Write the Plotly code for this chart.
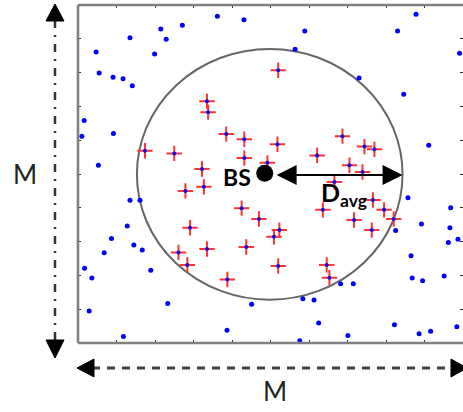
import plotly.graph_objects as go

# ---------------- data (axis units 0..10) ----------------
# users outside the coverage circle (blue dots)
blue_x = [3.62, 2.71, 2.15, 1.35, 2.29, 0.47, 1.99, 0.55, 0.91, 1.17, 1.41, 0.16, 0.10, 0.92,
          0.53, 1.35, 1.61, 4.31, 5.89, 8.78, 8.30, 5.64, 9.91, 7.30, 8.46, 9.11, 8.57, 1.28,
          0.87, 0.68, 1.45, 1.67, 0.17, 0.36, 1.89, 2.33, 0.29, 1.18, 3.87, 9.68, 8.92, 9.66,
          8.25, 9.62, 9.87, 8.65, 8.68, 8.95, 9.51, 6.82, 7.15, 5.84, 6.13, 4.51, 6.25, 8.22,
          9.84, 9.16, 8.86, 7.01, 5.76]
blue_y = [9.67, 9.40, 9.29, 9.03, 8.99, 8.61, 8.55, 7.99, 7.86, 7.82, 7.61, 6.58, 6.12, 6.20,
          5.26, 4.22, 4.22, 9.56, 9.23, 9.73, 9.23, 8.69, 8.57, 7.84, 7.36, 5.85, 4.30, 3.46,
          3.09, 2.67, 2.90, 2.75, 2.21, 1.92, 2.15, 1.17, 0.95, 0.19, 0.38, 4.00, 3.52, 3.41,
          3.33, 2.97, 3.07, 2.58, 1.92, 1.84, 1.98, 1.75, 1.75, 1.31, 1.27, 1.15, 0.59, 0.54,
          0.48, 0.35, 0.27, 0.22, 0.07]

# users inside the coverage circle (red crosses)
red_x = [3.35, 3.38, 3.85, 1.74, 2.50, 3.22, 3.27, 2.79, 5.20, 4.32, 5.18, 6.87, 7.44, 7.70,
         4.32, 6.21, 7.05, 7.39, 4.92, 6.66, 7.66, 4.25, 2.91, 2.61, 3.35, 2.84, 3.88, 4.70,
         5.23, 5.09, 4.37, 5.20, 6.46, 6.53, 6.36, 7.17, 7.95, 8.20, 7.63]
red_y = [7.15, 6.83, 6.18, 5.69, 5.61, 5.15, 4.62, 4.50, 8.07, 6.03, 5.88, 6.12, 5.81, 5.73,
         5.47, 5.55, 5.26, 5.06, 5.33, 4.76, 4.23, 3.99, 3.41, 2.68, 2.78, 2.31, 1.88, 3.67,
         3.34, 3.14, 2.84, 2.28, 2.31, 1.93, 3.94, 3.64, 3.94, 3.67, 3.34]

# base station and coverage circle
bs_x = [4.85]
bs_y = [5.02]
circle_cx, circle_cy = 4.98, 4.99
circle_rx, circle_ry = 3.45, 3.71
davg_y = 4.97
davg_from, davg_to = 5.12, 8.43

labels = {"bs": "BS", "davg": "<b>D</b><sub><b>avg</b></sub>", "side": "M"}

# ---------------- figure ----------------
W, H = 463, 412
L, R, T, B = 78, 0, 5, 69
PW, PH = W - L - R, H - T - B


def px(x):
    return (x - L) / PW


def py(y):
    return (H - B - y) / PH


fig = go.Figure()

fig.add_trace(go.Scatter(x=blue_x, y=blue_y, mode="markers",
                         marker=dict(color="#0000ff", size=5, symbol="circle"),
                         hoverinfo="skip", showlegend=False))
fig.add_trace(go.Scatter(x=red_x, y=red_y, mode="markers",
                         marker=dict(symbol="cross-thin", size=11,
                                     line=dict(color="#ff3333", width=2)),
                         hoverinfo="skip", showlegend=False))
fig.add_trace(go.Scatter(x=red_x, y=red_y, mode="markers",
                         marker=dict(color="#1010e0", size=4),
                         hoverinfo="skip", showlegend=False))
fig.add_trace(go.Scatter(x=bs_x, y=bs_y, mode="markers",
                         marker=dict(color="black", size=17),
                         hoverinfo="skip", showlegend=False))

shapes = []
# coverage circle
shapes.append(dict(type="circle", xref="x", yref="y",
                   x0=circle_cx - circle_rx, x1=circle_cx + circle_rx,
                   y0=circle_cy - circle_ry, y1=circle_cy + circle_ry,
                   line=dict(color="#666666", width=2), layer="below"))
# box border (left, top, bottom; right edge is cut off)
border = dict(color="#808080", width=2.6)
shapes.append(dict(type="line", xref="paper", yref="paper", x0=0, x1=0, y0=0, y1=1, line=border))
shapes.append(dict(type="line", xref="paper", yref="paper", x0=0, x1=1.01, y0=1, y1=1, line=border))
shapes.append(dict(type="line", xref="paper", yref="paper", x0=0, x1=1.01, y0=0, y1=0, line=border))

# vertical dash-dot double arrow (left)
vx = 55
shapes.append(dict(type="line", xref="paper", yref="paper", x0=px(vx), x1=px(vx),
                   y0=py(20), y1=py(340),
                   line=dict(color="#333333", width=2.5, dash="8px,7px,2px,7px")))


def tri(p):
    s = "M " + " L ".join(f"{px(a):.5f},{py(b):.5f}" for a, b in p) + " Z"
    return dict(type="path", xref="paper", yref="paper", path=s,
                fillcolor="black", line=dict(color="black", width=1))


shapes.append(tri([(vx, 4), (vx - 9, 21), (vx + 9, 21)]))
shapes.append(tri([(vx, 358), (vx - 9, 340), (vx + 9, 340)]))

# horizontal dashed double arrow (bottom)
hy = 368
shapes.append(dict(type="line", xref="paper", yref="paper", x0=px(92), x1=px(452),
                   y0=py(hy), y1=py(hy),
                   line=dict(color="#404040", width=3, dash="8px,7px")))
shapes.append(tri([(77, hy), (94, hy - 9), (94, hy + 9)]))
shapes.append(tri([(467, hy), (451, hy - 9), (451, hy + 9)]))

annotations = []
# D_avg arrow
annotations.append(dict(x=davg_to, y=davg_y, ax=davg_from, ay=davg_y,
                        xref="x", yref="y", axref="x", ayref="y", text="",
                        showarrow=True, arrowhead=2, startarrowhead=2,
                        arrowside="end+start", arrowsize=2, startarrowsize=2,
                        arrowwidth=2, arrowcolor="black"))
annotations.append(dict(x=bs_x[0] - 0.72, y=bs_y[0] - 0.1, xref="x", yref="y",
                        xanchor="center", yanchor="middle",
                        text="<b>" + labels["bs"] + "</b>", showarrow=False,
                        font=dict(family="Lato", size=23, color="black")))
annotations.append(dict(x=6.9, y=4.42, xref="x", yref="y", text=labels["davg"],
                        xanchor="center", yanchor="middle",
                        showarrow=False,
                        font=dict(family="Lato", size=25, color="black")))
# M labels
annotations.append(dict(x=px(25), y=py(174), xref="paper", yref="paper",
                        xanchor="center", yanchor="middle",
                        text=labels["side"], showarrow=False,
                        font=dict(family="Lato", size=26, color="#222222")))
annotations.append(dict(x=px(275), y=py(391), xref="paper", yref="paper",
                        xanchor="center", yanchor="middle",
                        text=labels["side"], showarrow=False,
                        font=dict(family="Lato", size=26, color="#222222")))

axis_common = dict(range=[0, 10], dtick=1, tick0=0, ticks="inside", ticklen=3,
                   tickwidth=1, tickcolor="#333333", showticklabels=False,
                   showgrid=False, zeroline=False, showline=False, mirror="ticks",
                   fixedrange=True)

fig.update_layout(
    width=W, height=H,
    margin=dict(l=L, r=R, t=T, b=B, pad=0),
    paper_bgcolor="white", plot_bgcolor="white",
    xaxis=axis_common, yaxis=axis_common,
    shapes=shapes, annotations=annotations,
    showlegend=False,
)

fig.write_html("out.html", config={"displayModeBar": False},
               post_script="document.body.style.margin='0';document.body.style.overflow='hidden';")
